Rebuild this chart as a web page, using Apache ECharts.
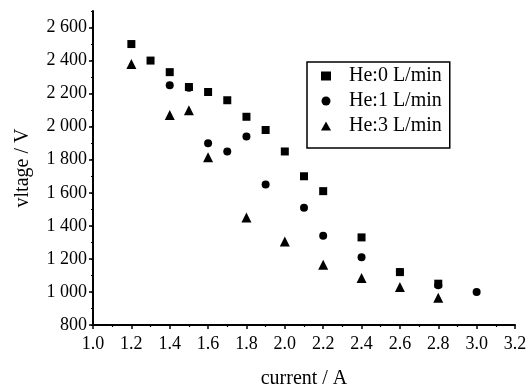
<!DOCTYPE html>
<html><head><meta charset="utf-8">
<script src="https://cdn.jsdelivr.net/npm/echarts@6/dist/echarts.min.js"></script>
<style>html,body{margin:0;padding:0;background:#fff}#c{width:532px;height:385px}</style>
</head><body><div id="c"></div>
<script>
const seriesNames = ['He:0 L/min', 'He:1 L/min', 'He:3 L/min'];
const he0X = [1.2, 1.3, 1.4, 1.5, 1.6, 1.7, 1.8, 1.9, 2.0, 2.1, 2.2, 2.4, 2.6, 2.8];
const he0Y = [2500, 2400, 2330, 2240, 2210, 2160, 2060, 1980, 1850, 1700, 1610, 1330, 1120, 1050];
const he1X = [1.4, 1.5, 1.6, 1.7, 1.8, 1.9, 2.1, 2.2, 2.4, 2.6, 2.8, 3.0];
const he1Y = [2250, 2235, 1900, 1850, 1940, 1650, 1510, 1340, 1210, 1120, 1040, 1000];
const he3X = [1.2, 1.4, 1.5, 1.6, 1.8, 2.0, 2.2, 2.4, 2.6, 2.8];
const he3Y = [2380, 2070, 2100, 1815, 1450, 1305, 1165, 1085, 1030, 965];
const yTickValues = [800, 1000, 1200, 1400, 1600, 1800, 2000, 2200, 2400, 2600];

const font = 'Liberation Serif';
const zip = (xs, ys) => xs.map((x, i) => [x, ys[i]]);
const fmtThousands = v => {
  const s = String(Math.round(v));
  return s.length > 3 ? s.slice(0, s.length - 3) + ' ' + s.slice(-3) : s;
};

const chart = echarts.init(document.getElementById('c'), null, {renderer: 'canvas'});
chart.setOption({
  animation: false,
  backgroundColor: '#fff',
  grid: {left: 93, right: 17, top: 11, bottom: 60, containLabel: false, outerBoundsMode: 'none'},
  legend: {
    orient: 'vertical', left: 307, top: 62,
    padding: [4, 8, 12, 14],
    itemGap: 5, itemWidth: 10, itemHeight: 9,
    borderColor: '#000', borderWidth: 1.5, backgroundColor: '#fff',
    textStyle: {fontFamily: font, fontSize: 20, color: '#000', padding: [0, 0, 0, 13]},
    data: [
      {name: seriesNames[0], icon: 'rect', itemStyle: {opacity: 1}},
      {name: seriesNames[1], icon: 'circle', itemStyle: {opacity: 1}},
      {name: seriesNames[2], icon: 'triangle', itemStyle: {opacity: 1}}
    ]
  },
  xAxis: {
    type: 'value', min: 1.0, max: 3.2, interval: 0.2,
    name: 'current / A', nameLocation: 'middle', nameGap: 44,
    nameTextStyle: {fontFamily: font, fontSize: 20, color: '#000'},
    axisLine: {show: true, onZero: false, lineStyle: {color: '#000', width: 2}},
    axisTick: {show: true, inside: false, length: 4, lineStyle: {color: '#000', width: 1.5}},
    minorTick: {show: true, splitNumber: 2, length: 2, lineStyle: {color: '#000', width: 1.2}},
    splitLine: {show: false},
    axisLabel: {fontFamily: font, fontSize: 18, color: '#000', margin: 10,
      formatter: v => v.toFixed(1)}
  },
  yAxis: [{
    type: 'value', min: 800, max: 2700,
    name: 'vltage / V', nameLocation: 'middle', nameGap: 60,
    nameTextStyle: {fontFamily: font, fontSize: 20, color: '#000'},
    axisLine: {show: true, onZero: false, lineStyle: {color: '#000', width: 2}},
    axisTick: {show: true, inside: false, length: 4, customValues: yTickValues,
      lineStyle: {color: '#000', width: 1.5}},
    splitLine: {show: false},
    axisLabel: {fontFamily: font, fontSize: 18, color: '#000', margin: 6,
      customValues: yTickValues, formatter: fmtThousands}
  }, {
    type: 'value', min: 800, max: 2700, interval: 100, position: 'left',
    axisLine: {show: false},
    axisTick: {show: true, inside: false, length: 2, lineStyle: {color: '#000', width: 1.2}},
    axisLabel: {show: false},
    splitLine: {show: false}
  }],
  series: [
    {name: seriesNames[0], type: 'scatter', symbol: 'rect', symbolSize: 8,
      itemStyle: {color: '#000', opacity: 1}, data: zip(he0X, he0Y)},
    {name: seriesNames[1], type: 'scatter', symbol: 'circle', symbolSize: 8,
      itemStyle: {color: '#000', opacity: 1}, data: zip(he1X, he1Y)},
    {name: seriesNames[2], type: 'scatter', symbol: 'triangle', symbolSize: 10,
      itemStyle: {color: '#000', opacity: 1}, data: zip(he3X, he3Y)}
  ]
});
</script></body></html>
